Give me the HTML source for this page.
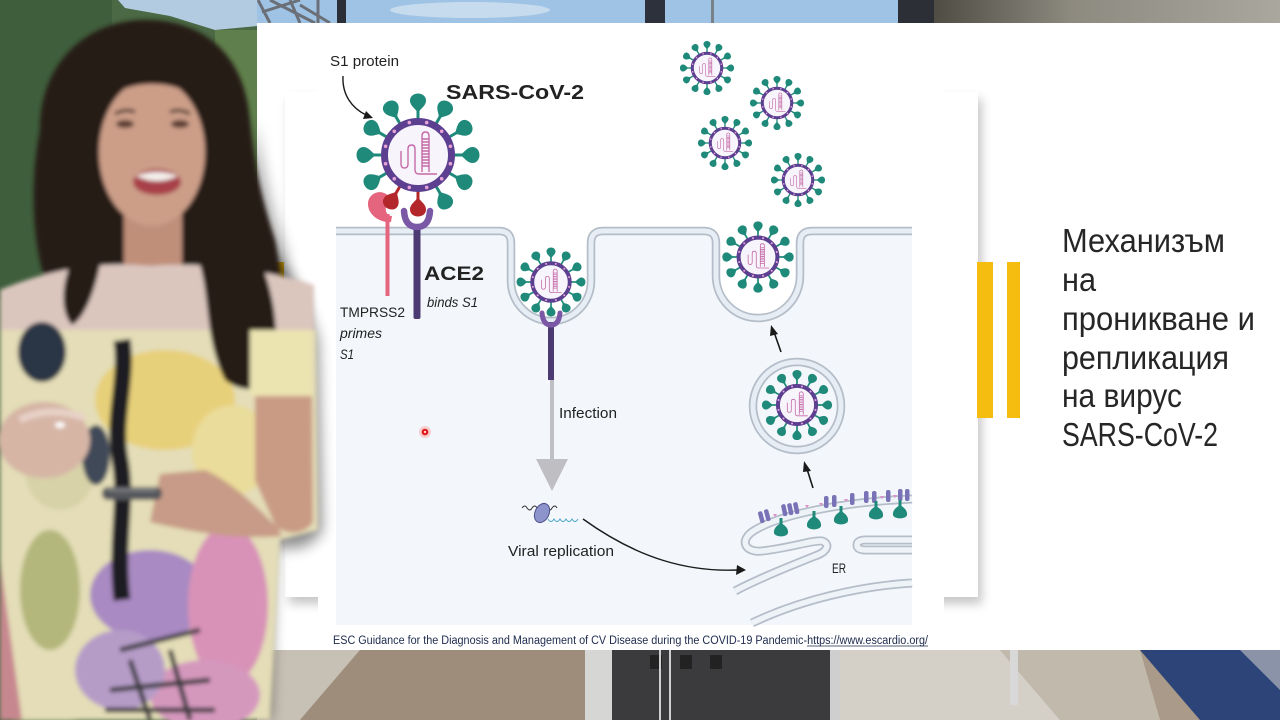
<!DOCTYPE html>
<html><head><meta charset="utf-8"><style>
html,body{margin:0;padding:0;background:#fff;}
svg{display:block;}
</style></head><body>
<svg width="1280" height="720" viewBox="0 0 1280 720" xmlns="http://www.w3.org/2000/svg" font-family="'Liberation Sans', 'DejaVu Sans', sans-serif">
<defs>
  <filter id="blur2" x="-10%" y="-10%" width="120%" height="120%"><feGaussianBlur stdDeviation="2"/></filter>
  <filter id="blur4" x="-10%" y="-10%" width="120%" height="120%"><feGaussianBlur stdDeviation="4"/></filter>
  <filter id="blur8" x="-20%" y="-20%" width="140%" height="140%"><feGaussianBlur stdDeviation="7"/></filter>
  <filter id="sh" x="-5%" y="-5%" width="115%" height="115%"><feDropShadow dx="4" dy="7" stdDeviation="5" flood-color="#000" flood-opacity="0.22"/></filter>
  <linearGradient id="topR" x1="0" x2="1"><stop offset="0" stop-color="#4f4c44"/><stop offset="0.4" stop-color="#8d8a80"/><stop offset="1" stop-color="#a9a79e"/></linearGradient>
  <g id="spk">
    <rect x="-1.5" y="-46" width="3" height="12"/>
    <path d="M0,-42 C-2,-46 -8,-49 -8,-54.5 C-8,-59 -4,-61.5 0,-61.5 C4,-61.5 8,-59 8,-54.5 C8,-49 2,-46 0,-42Z"/>
  </g>
  <g id="vcore">
    <circle r="33.5" fill="#f7f5fb" stroke="#5c3f90" stroke-width="7"/>
    <g fill="#e6a3d6">
      <circle cx="32.4" cy="8.7" r="1.8"/><circle cx="23.7" cy="23.7" r="1.8"/><circle cx="8.7" cy="32.4" r="1.8"/>
      <circle cx="-8.7" cy="32.4" r="1.8"/><circle cx="-23.7" cy="23.7" r="1.8"/><circle cx="-32.4" cy="8.7" r="1.8"/>
      <circle cx="-32.4" cy="-8.7" r="1.8"/><circle cx="-23.7" cy="-23.7" r="1.8"/><circle cx="-8.7" cy="-32.4" r="1.8"/>
      <circle cx="8.7" cy="-32.4" r="1.8"/><circle cx="23.7" cy="-23.7" r="1.8"/><circle cx="32.4" cy="-8.7" r="1.8"/>
    </g>
    <path d="M-17,-4 V9 Q-17,13 -13.5,13 Q-10,13 -10,9 V-6 Q-10,-10 -6.5,-10 Q-3,-10 -3,-6 V15 Q-3,19 1,19 H19 M4,17 V-19 Q4,-23 7.5,-23 Q11,-23 11,-19 V17 M4,-16H11 M4,-13H11 M4,-10H11 M4,-7H11 M4,-4H11 M4,-1H11 M4,2H11 M4,5H11 M4,8H11 M4,11H11" fill="none" stroke="#c56aa8" stroke-width="1.4"/>
  </g>
  <g id="virus">
    <g fill="#1f8a7a">
      <use href="#spk"/><use href="#spk" transform="rotate(30)"/><use href="#spk" transform="rotate(60)"/><use href="#spk" transform="rotate(90)"/>
      <use href="#spk" transform="rotate(120)"/><use href="#spk" transform="rotate(150)"/><use href="#spk" transform="rotate(180)"/><use href="#spk" transform="rotate(210)"/>
      <use href="#spk" transform="rotate(240)"/><use href="#spk" transform="rotate(270)"/><use href="#spk" transform="rotate(300)"/><use href="#spk" transform="rotate(330)"/>
    </g>
    <use href="#vcore"/>
  </g>
  <path id="mem" d="M336,231 H499 Q511,231 511,243 V281 A40 40 0 0 0 591 281 V243 Q591,231 603,231 H704 Q716,231 716,243 V276 A42 42 0 0 0 800 276 V243 Q800,231 812,231 H912"/>
  <path id="er1" d="M912,499 C840,502 780,515 755,530 C738,540 745,553 762,551 C790,548 812,540 822,541 C831,544 827,552 815,556 C790,566 760,578 735,591"/>
  <path id="er2" d="M912,540 H866 Q857,540 857,545 Q857,550 866,550 H912"/>
  <path id="er3" d="M752,623 C800,600 860,586 912,583"/>
</defs>

<!-- ===== background scene ===== -->
<rect x="0" y="0" width="1280" height="720" fill="#9fc3e4"/>
<g>
  <path d="M258,0 L270,23 M290,0 L300,23 M262,12 L300,0 M270,0 L315,23 M300,5 L330,23 M318,0 V23" stroke="#6b7078" stroke-width="3" fill="none"/>
  <rect x="337" y="0" width="9" height="23" fill="#2b2f38"/>
  <rect x="645" y="0" width="20" height="23" fill="#2c313b"/>
  <rect x="711" y="0" width="3" height="23" fill="#7a8088"/>
  <rect x="898" y="0" width="36" height="23" fill="#2c2f36"/>
  <rect x="934" y="0" width="346" height="23" fill="url(#topR)"/>
  <ellipse cx="470" cy="10" rx="80" ry="8" fill="#d8e6f2" opacity="0.7"/>
</g>
<g>
  <rect x="257" y="650" width="1023" height="70" fill="#a99a89"/>
  <polygon points="257,650 360,650 300,720 257,720" fill="#c7c0b5"/>
  <polygon points="360,650 590,650 590,720 300,720" fill="#9f8d7b"/>
  <rect x="585" y="650" width="28" height="70" fill="#d6d6d4"/>
  <rect x="612" y="650" width="218" height="70" fill="#3b3b3d"/>
  <rect x="650" y="655" width="12" height="14" fill="#222"/><rect x="680" y="655" width="12" height="14" fill="#222"/><rect x="710" y="655" width="12" height="14" fill="#222"/>
  <path d="M660,650 V720 M670,650 V720" stroke="#cfcfcf" stroke-width="2"/>
  <rect x="830" y="650" width="10" height="70" fill="#cfcfcf"/>
  <polygon points="840,650 1000,650 1060,720 840,720" fill="#d4d0c8"/>
  <polygon points="1000,650 1140,650 1160,720 1060,720" fill="#c2b9ad"/>
  <rect x="1010" y="650" width="8" height="55" fill="#d8d8d8"/>
  <polygon points="1140,650 1280,650 1280,720 1200,720" fill="#2c4478"/>
  <polygon points="1240,650 1280,650 1280,690" fill="#8a93a8"/>
</g>
<rect x="0" y="0" width="257" height="720" fill="#4a6944"/>
<path d="M118,0 H257 V26 L215,30 L170,16 L125,8 Z" fill="#b3cbe0"/>
<rect x="215" y="30" width="42" height="240" fill="#5f7f4c"/>
<rect x="0" y="0" width="112" height="300" fill="#3f5e3c"/>
<rect x="15" y="520" width="60" height="200" fill="#aab27a" filter="url(#blur4)"/>

<!-- ===== slide ===== -->
<rect x="257" y="23" width="1023" height="627" fill="#ffffff"/>
<rect x="265" y="262" width="19" height="40" fill="#f3bd12"/>
<rect x="285" y="92" width="693" height="505" fill="#ffffff" filter="url(#sh)"/>
<rect x="318" y="23" width="626" height="610" fill="#ffffff"/>

<rect x="977" y="262" width="16" height="156" fill="#f4bd10"/>
<rect x="1007" y="262" width="13" height="156" fill="#f4bd10"/>

<g fill="#262626" font-size="33">
  <text x="1062" y="252" textLength="163" lengthAdjust="spacingAndGlyphs">Механизъм</text>
  <text x="1062" y="291" textLength="34" lengthAdjust="spacingAndGlyphs">на</text>
  <text x="1062" y="330" textLength="193" lengthAdjust="spacingAndGlyphs">проникване и</text>
  <text x="1062" y="369" textLength="167" lengthAdjust="spacingAndGlyphs">репликация</text>
  <text x="1062" y="407" textLength="120" lengthAdjust="spacingAndGlyphs">на вирус</text>
  <text x="1062" y="446" textLength="156" lengthAdjust="spacingAndGlyphs">SARS-CoV-2</text>
</g>

<!-- ===== diagram ===== -->
<path d="M336,231 H499 Q511,231 511,243 V281 A40 40 0 0 0 591 281 V243 Q591,231 603,231 H704 Q716,231 716,243 V276 A42 42 0 0 0 800 276 V243 Q800,231 812,231 H912 V625 H336 Z" fill="#f3f7fb"/>
<use href="#mem" fill="none" stroke="#b4bdc8" stroke-width="8.5"/>
<use href="#mem" fill="none" stroke="#e6edf5" stroke-width="5"/>

<circle cx="797" cy="406" r="44" fill="#f3f7fb" stroke="#b4bdc8" stroke-width="8.5"/>
<circle cx="797" cy="406" r="44" fill="none" stroke="#e6edf5" stroke-width="5"/>

<g fill="none">
  <use href="#er1" stroke="#b4bdc8" stroke-width="9"/><use href="#er1" stroke="#eef3f8" stroke-width="5.5"/>
  <use href="#er2" stroke="#b4bdc8" stroke-width="9"/><use href="#er2" stroke="#eef3f8" stroke-width="5.5"/>
  <use href="#er3" stroke="#b4bdc8" stroke-width="9"/><use href="#er3" stroke="#eef3f8" stroke-width="5.5"/>
</g>
<g fill="#7a72b6">
  <rect x="759" y="511" width="4.5" height="12" rx="2" transform="rotate(-15 762 517)"/>
  <rect x="765" y="509" width="4.5" height="12" rx="2" transform="rotate(-15 768 515)"/>
  <rect x="782" y="504" width="4.5" height="12" rx="2" transform="rotate(-12 785 510)"/>
  <rect x="788" y="503" width="4.5" height="12" rx="2" transform="rotate(-12 791 509)"/>
  <rect x="794" y="502" width="4.5" height="12" rx="2" transform="rotate(-12 797 508)"/>
  <rect x="824" y="496" width="4.5" height="12" rx="2"/>
  <rect x="832" y="495" width="4.5" height="12" rx="2"/>
  <rect x="850" y="493" width="4.5" height="12" rx="2"/>
  <rect x="864" y="491" width="4.5" height="12" rx="2"/>
  <rect x="872" y="491" width="4.5" height="12" rx="2"/>
  <rect x="886" y="490" width="4.5" height="12" rx="2"/>
  <rect x="898" y="489" width="4.5" height="12" rx="2"/>
  <rect x="905" y="489" width="4.5" height="12" rx="2"/>
</g>
<g fill="#e090cc">
  <path d="M773,514 l4,0 l-2,3z"/><path d="M805,505 l4,0 l-2,3z"/><path d="M819,503 l4,0 l-2,3z"/><path d="M844,499 l4,0 l-2,3z"/><path d="M880,496 l4,0 l-2,3z"/><path d="M893,495 l4,0 l-2,3z"/>
</g>
<g fill="#1f8a7a">
  <g transform="translate(781,520)"><rect x="-1.5" y="-2" width="3" height="7"/><path d="M0,3 C-5,6 -7.5,9 -7,13 C-6,17.5 6,17.5 7,13 C7.5,9 5,6 0,3Z"/></g>
  <g transform="translate(814,513)"><rect x="-1.5" y="-2" width="3" height="7"/><path d="M0,3 C-5,6 -7.5,9 -7,13 C-6,17.5 6,17.5 7,13 C7.5,9 5,6 0,3Z"/></g>
  <g transform="translate(841,508)"><rect x="-1.5" y="-2" width="3" height="7"/><path d="M0,3 C-5,6 -7.5,9 -7,13 C-6,17.5 6,17.5 7,13 C7.5,9 5,6 0,3Z"/></g>
  <g transform="translate(876,503)"><rect x="-1.5" y="-2" width="3" height="7"/><path d="M0,3 C-5,6 -7.5,9 -7,13 C-6,17.5 6,17.5 7,13 C7.5,9 5,6 0,3Z"/></g>
  <g transform="translate(900,502)"><rect x="-1.5" y="-2" width="3" height="7"/><path d="M0,3 C-5,6 -7.5,9 -7,13 C-6,17.5 6,17.5 7,13 C7.5,9 5,6 0,3Z"/></g>
</g>

<rect x="385.5" y="214" width="4" height="82" fill="#e5657f"/>
<path d="M389,222 C378,222 368,214 368,204 C368,195 377,190 384,193 C389,195 392,199 392,202 C387,203 385,207 386,211 C387,215 390,216 392,216 L391,222 Z" fill="#e5657f"/>
<rect x="413.5" y="224" width="7" height="95" fill="#4b3b72" rx="2"/>
<path d="M404,211 Q405,227 417,227 Q429,227 430,211" fill="none" stroke="#7b58a6" stroke-width="6.5" stroke-linecap="round"/>

<g transform="translate(418,155)">
  <g fill="#1f8a7a">
    <use href="#spk"/><use href="#spk" transform="rotate(30)"/><use href="#spk" transform="rotate(60)"/><use href="#spk" transform="rotate(90)"/>
    <use href="#spk" transform="rotate(120)"/><use href="#spk" transform="rotate(150)"/>
    <use href="#spk" transform="rotate(240)"/><use href="#spk" transform="rotate(270)"/><use href="#spk" transform="rotate(300)"/><use href="#spk" transform="rotate(330)"/>
  </g>
  <g fill="#b3272a">
    <use href="#spk" transform="rotate(180)"/><use href="#spk" transform="rotate(210)"/>
  </g>
  <use href="#vcore"/>
</g>

<use href="#virus" transform="translate(551,282) scale(0.56)"/>
<rect x="548" y="322" width="6" height="58" fill="#4b3b72"/>
<path d="M542,313 Q543,325 551,325 Q559,325 560,313" fill="none" stroke="#7b58a6" stroke-width="5" stroke-linecap="round"/>
<rect x="550" y="380" width="4" height="80" fill="#bfbfc3"/>
<polygon points="536,459 568,459 552,491" fill="#bfbfc3"/>

<use href="#virus" transform="translate(758,257) scale(0.58)"/>
<use href="#virus" transform="translate(797,405) scale(0.57)"/>

<use href="#virus" transform="translate(707,68) scale(0.44)"/>
<use href="#virus" transform="translate(777,103) scale(0.44)"/>
<use href="#virus" transform="translate(725,143) scale(0.44)"/>
<use href="#virus" transform="translate(798,180) scale(0.44)"/>

<g stroke="#1a1a1a" stroke-width="1.6" fill="#1a1a1a">
  <line x1="781" y1="352" x2="774" y2="332"/><polygon points="771,325 778,334 770,336" stroke="none"/>
  <line x1="813" y1="488" x2="807" y2="469"/><polygon points="804,461 811,471 803,472" stroke="none"/>
</g>
<path d="M343,76 C342,95 352,108 366,115" fill="none" stroke="#1a1a1a" stroke-width="1.4"/>
<polygon points="373,118 363,119 366,111" fill="#1a1a1a"/>
<path d="M583,519 C640,560 690,572 738,570" fill="none" stroke="#1a1a1a" stroke-width="1.4"/>
<polygon points="746,570 736,575 737,565" fill="#1a1a1a"/>

<path d="M522,508 q3,-4 5,0 q3,4 5,0 q3,-4 5,0 q3,4 5,0 q3,-4 5,0 q3,4 5,0 q3,-4 5,0" fill="none" stroke="#333" stroke-width="1"/>
<ellipse cx="542" cy="513" rx="7" ry="10" transform="rotate(25 542 513)" fill="#8d94cc" stroke="#4b4f8a" stroke-width="1"/>
<path d="M548,519 q3,5 6,0 q3,5 6,0 q3,5 6,0 q3,5 6,0 q3,5 6,0" fill="none" stroke="#4aa8c8" stroke-width="1"/>

<g fill="#222">
  <text x="330" y="66" font-size="15" textLength="69" lengthAdjust="spacingAndGlyphs">S1 protein</text>
  <text x="446" y="99" font-size="20" font-weight="bold" textLength="138" lengthAdjust="spacingAndGlyphs">SARS-CoV-2</text>
  <text x="424" y="280" font-size="19" font-weight="bold" textLength="60" lengthAdjust="spacingAndGlyphs">ACE2</text>
  <text x="427" y="307" font-size="14" font-style="italic" textLength="51" lengthAdjust="spacingAndGlyphs">binds S1</text>
  <text x="340" y="317" font-size="14" textLength="65" lengthAdjust="spacingAndGlyphs">TMPRSS2</text>
  <text x="340" y="338" font-size="14" font-style="italic" textLength="42" lengthAdjust="spacingAndGlyphs">primes</text>
  <text x="340" y="359" font-size="14" font-style="italic" textLength="14" lengthAdjust="spacingAndGlyphs">S1</text>
  <text x="559" y="418" font-size="15" textLength="58" lengthAdjust="spacingAndGlyphs">Infection</text>
  <text x="508" y="556" font-size="15" textLength="106" lengthAdjust="spacingAndGlyphs">Viral replication</text>
  <text x="832" y="573" font-size="14" textLength="14" lengthAdjust="spacingAndGlyphs">ER</text>
</g>

<text x="333" y="644" font-size="11.5" fill="#1d2a4e" textLength="595" lengthAdjust="spacingAndGlyphs">ESC Guidance for the Diagnosis and Management of CV Disease during the COVID-19 Pandemic-https://www.escardio.org/</text>
<line x1="807" y1="646" x2="928" y2="646" stroke="#1d2a4e" stroke-width="0.8"/>

<circle cx="425" cy="432" r="6" fill="#ff8080" opacity="0.35"/>
<circle cx="425" cy="432" r="3.3" fill="#e01818"/>
<circle cx="425" cy="432" r="1.2" fill="#ffd0d0"/>

<!-- ===== woman ===== -->
<path d="M240,240 C290,250 305,300 318,340 L322,530 C312,548 292,552 275,545 L270,720 L250,720 L245,250 Z" fill="#000" opacity="0.45" filter="url(#blur8)"/>
<path d="M255,120 C262,170 270,210 285,250 C292,300 290,350 275,392 L235,392 Z" fill="#000" opacity="0.35" filter="url(#blur8)"/>
<g filter="url(#blur2)">
  <rect x="0" y="540" width="22" height="180" fill="#c7878f"/>
  <path d="M40,130 C40,60 90,18 150,20 C210,22 245,60 250,120 C255,170 262,200 275,240 C285,290 282,350 268,385 C255,395 232,392 222,375 C210,350 205,320 200,290 L195,265 L105,265 C100,290 90,320 72,325 C55,322 50,300 45,280 C32,240 30,180 40,130 Z" fill="#251a16"/>
  <rect x="124" y="195" width="58" height="80" fill="#bf8f7a"/>
  <ellipse cx="152" cy="152" rx="53" ry="74" fill="#cc9e88"/>
  <path d="M98,118 C100,80 125,62 152,62 C180,62 204,80 206,118 C200,95 180,84 152,84 C125,84 105,95 98,118 Z" fill="#251a16"/>
  <ellipse cx="125" cy="124" rx="9" ry="4" fill="#5a3a30"/>
  <ellipse cx="180" cy="124" rx="9" ry="4" fill="#5a3a30"/>
  <path d="M115,114 q10,-6 20,-2 M170,112 q10,-4 20,2" stroke="#2a1a15" stroke-width="3" fill="none"/>
  <ellipse cx="157" cy="182" rx="24" ry="13" fill="#a8404a"/>
  <path d="M136,176 Q157,168 178,176 Q157,186 136,176 Z" fill="#f4f0ec"/>
  <path d="M0,290 C60,265 110,262 150,266 C200,262 260,268 314,285 L314,335 L0,335 Z" fill="#dbc6be"/>
  <path d="M0,330 L316,330 L318,530 L280,540 L270,720 L22,720 L0,560 Z" fill="#e4ddb7"/>
  <ellipse cx="165" cy="400" rx="70" ry="50" fill="#e7d07a"/>
  <ellipse cx="232" cy="450" rx="40" ry="45" fill="#eadc9a"/>
  <ellipse cx="60" cy="470" rx="35" ry="40" fill="#d8d2a8"/>
  <ellipse cx="42" cy="352" rx="24" ry="30" fill="#2b3444"/>
  <ellipse cx="96" cy="455" rx="14" ry="30" fill="#414858"/>
  <ellipse cx="50" cy="590" rx="30" ry="60" fill="#b3b77c"/>
  <ellipse cx="150" cy="595" rx="60" ry="45" fill="#a98ac2"/>
  <ellipse cx="228" cy="605" rx="40" ry="80" fill="#d892b7"/>
  <ellipse cx="205" cy="695" rx="55" ry="35" fill="#d598bd"/>
  <ellipse cx="120" cy="670" rx="45" ry="40" fill="#b59cc7"/>
  <path d="M120,650 L200,630 M110,690 L210,680 M130,660 L150,720 M170,650 L190,720 M105,710 H215" stroke="#3a3a3c" stroke-width="5" fill="none"/>
  <path d="M122,340 C128,380 112,420 120,460 C128,500 115,540 122,600" stroke="#1d1b22" stroke-width="17" fill="none"/>
  <path d="M200,265 C210,300 205,340 225,380 C245,395 265,390 272,372 C280,340 276,300 262,265 Z" fill="#251a16"/>
  <path d="M70,265 C60,290 62,315 72,325 C85,318 95,290 100,265 Z" fill="#251a16"/>
  <rect x="250" y="330" width="62" height="66" fill="#ebe3b0"/>
  <path d="M255,396 L312,396 L313,522 C305,534 290,536 276,527 L255,480 Z" fill="#c99b85"/>
  <path d="M278,528 C255,505 232,482 205,470 L160,474 L150,522 C190,532 240,540 282,536 Z" fill="#c79b87"/>
  <ellipse cx="44" cy="440" rx="46" ry="38" fill="#d6b5a5"/>
  <path d="M20,420 Q50,405 85,418" stroke="#e8d2c8" stroke-width="7" fill="none"/>
  <ellipse cx="60" cy="425" rx="5" ry="3" fill="#ffffff"/>
  <rect x="102" y="487" width="60" height="13" rx="6" fill="#55575c"/>
  <path d="M108,490 H156" stroke="#8a8c90" stroke-width="2"/>
</g>
</svg>
</body></html>
